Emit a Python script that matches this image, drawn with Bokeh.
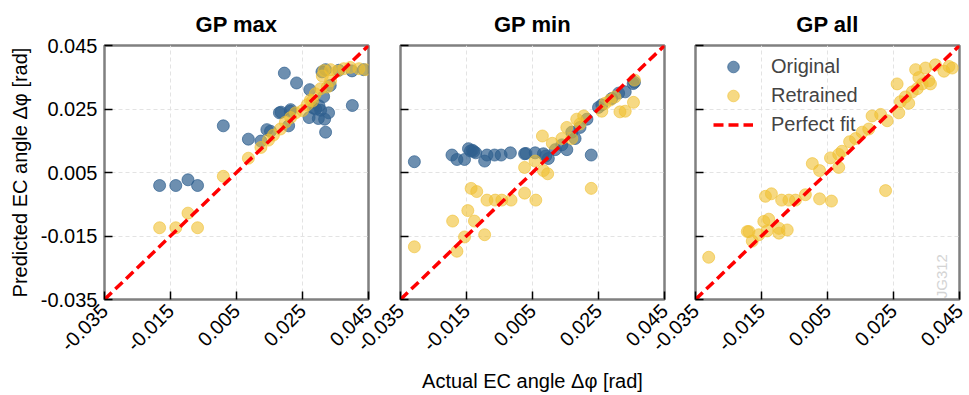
from math import pi
from bokeh.plotting import figure
from bokeh.layouts import row
from bokeh.models import FixedTicker, Legend, LegendItem, Label, Range1d
from bokeh.embed import file_html
from bokeh.resources import INLINE

titles = ["GP max", "GP min", "GP all"]
tick_values = [-0.035, -0.015, 0.005, 0.025, 0.045]
tick_labels = ["-0.035", "-0.015", "0.005", "0.025", "0.045"]
axis_limits = [-0.035, 0.045]
fit_line = [-0.035, 0.045]

# GP max
max_orig_x = [-0.0183, -0.0134, -0.0097, -0.0068, 0.0010, 0.0086, 0.0124, 0.0142, 0.0153, 0.0180,
              0.0195, 0.0213, 0.0208, 0.0232, 0.0272, 0.0270, 0.0283, 0.0298, 0.0305, 0.0317,
              0.0320, 0.0329, 0.0314, 0.0334, 0.0401, 0.0309, 0.0320, 0.0360, 0.0400, 0.0435,
              0.0300, 0.0290, 0.0185, 0.0214]
max_orig_y = [0.0009, 0.0009, 0.0027, 0.0009, 0.0197, 0.0155, 0.0149, 0.0185, 0.0180, 0.0238,
              0.0363, 0.0243, 0.0197, 0.0332, 0.0311, 0.0223, 0.0253, 0.0220, 0.0246, 0.0218,
              0.0177, 0.0238, 0.0289, 0.0324, 0.0261, 0.0367, 0.0374, 0.0372, 0.0370, 0.0374,
              0.0260, 0.0250, 0.0240, 0.0248]
max_retr_x = [-0.0183, -0.0134, -0.0097, -0.0068, 0.0010, 0.0086, 0.0124, 0.0147, 0.0162, 0.0183,
              0.0198, 0.0214, 0.0229, 0.0264, 0.0274, 0.0289, 0.0305, 0.0325, 0.0335, 0.0315,
              0.0335, 0.0355, 0.0375, 0.0395, 0.0421, 0.0441, 0.0310, 0.0250, 0.0280]
max_retr_y = [-0.0124, -0.0124, -0.0078, -0.0124, 0.0038, 0.0095, 0.0129, 0.0152, 0.0168, 0.0187,
              0.0208, 0.0223, 0.0238, 0.0263, 0.0278, 0.0298, 0.0314, 0.0319, 0.0339, 0.0371,
              0.0374, 0.0369, 0.0377, 0.0381, 0.0377, 0.0374, 0.0354, 0.0245, 0.0275]

# GP min
min_orig_x = [-0.0308, -0.0194, -0.0179, -0.0156, -0.0144, -0.0132, -0.0122, -0.0095, -0.0088, -0.0065,
              -0.0045, -0.0017, 0.0026, 0.0058, 0.0083, 0.0098, 0.0119, 0.0139, 0.0154, 0.0169,
              0.0179, 0.0194, 0.0215, 0.0228, 0.0260, 0.0290, 0.0311, 0.0331, 0.0359,
              -0.0138, -0.0128, 0.0030, 0.0090, 0.0355, 0.0250]
min_orig_y = [0.0084, 0.0105, 0.0091, 0.0091, 0.0125, 0.0120, 0.0112, 0.0086, 0.0105, 0.0105,
              0.0105, 0.0112, 0.0109, 0.0112, 0.0109, 0.0094, 0.0122, 0.0137, 0.0122, 0.0177,
              0.0157, 0.0192, 0.0218, 0.0105, 0.0263, 0.0283, 0.0300, 0.0304, 0.0334,
              0.0118, 0.0116, 0.0110, 0.0102, 0.0330, 0.0255]
min_retr_x = [-0.0308, -0.0179, -0.0192, -0.0156, -0.0146, -0.0136, -0.0119, -0.0126, -0.0095, -0.0088,
              -0.0063, -0.0043, -0.0015, 0.0026, 0.0026, 0.0060, 0.0058, 0.0080, 0.0083, 0.0096,
              0.0228, 0.0110, 0.0139, 0.0154, 0.0169, 0.0184, 0.0205, 0.0194, 0.0260, 0.0270,
              0.0285, 0.0300, 0.0315, 0.0331, 0.0356, 0.0359]
min_retr_y = [-0.0184, -0.0198, -0.0103, -0.0153, -0.0070, 0.0000, -0.0010, -0.0103, -0.0146, -0.0037,
              -0.0037, -0.0037, -0.0037, 0.0066, -0.0015, -0.0037, 0.0086, 0.0165, 0.0056, 0.0046,
              0.0000, 0.0142, 0.0157, 0.0192, 0.0157, 0.0218, 0.0228, 0.0203, 0.0243, 0.0268,
              0.0278, 0.0288, 0.0241, 0.0243, 0.0271, 0.0341]

# GP all (no original points are shown in this panel; NaN keeps a legend swatch)
all_orig_x = [float("nan")]
all_orig_y = [float("nan")]
all_retr_x = [-0.0310, -0.0193, -0.0188, -0.0178, -0.0158, -0.0143, -0.0128, -0.0133, -0.0097, -0.0097,
              -0.0072, -0.0138, -0.0120, -0.0089, -0.0067, -0.0047, -0.0017, 0.0026, 0.0062, 0.0004,
              0.0026, 0.0059, 0.0084, 0.0084, 0.0094, 0.0117, 0.0135, 0.0155, 0.0175, 0.0185,
              0.0211, 0.0231, 0.0226, 0.0261, 0.0266, 0.0271, 0.0286, 0.0296, 0.0307, 0.0322,
              0.0337, 0.0357, 0.0362, 0.0317, 0.0327, 0.0347, 0.0377, 0.0403, 0.0418, 0.0428]
all_retr_y = [-0.0217, -0.0136, -0.0136, -0.0166, -0.0146, -0.0104, -0.0097, -0.0134, -0.0141, -0.0126,
              -0.0131, -0.0025, -0.0017, -0.0037, -0.0037, -0.0037, -0.0020, -0.0033, -0.0040, 0.0078,
              0.0056, 0.0096, 0.0066, 0.0107, 0.0117, 0.0147, 0.0157, 0.0177, 0.0187, 0.0228,
              0.0233, 0.0213, -0.0007, 0.0329, 0.0238, 0.0273, 0.0288, 0.0268, 0.0304, 0.0314,
              0.0329, 0.0339, 0.0329, 0.0374, 0.0349, 0.0379, 0.0389, 0.0369, 0.0384, 0.0379]

panels = [
    (max_orig_x, max_orig_y, max_retr_x, max_retr_y),
    (min_orig_x, min_orig_y, min_retr_x, min_retr_y),
    (all_orig_x, all_orig_y, all_retr_x, all_retr_y),
]

BLUE = "#2f5f8f"
YELLOW = "#f0c030"
FONT = "Liberation Sans"
H = 395
TOP = 40
FRAME = 264
layout_cfg = [
    dict(width=378, left=104, right=10, margin=(0, 0, 0, 0)),
    dict(width=336, left=62, right=10, margin=(0, 0, 0, -40)),
    dict(width=335, left=61, right=10, margin=(0, 0, 0, -40)),
]

figs = []
for i, (title, data, cfg) in enumerate(zip(titles, panels, layout_cfg)):
    ox, oy, rx, ry = data
    p = figure(width=cfg["width"], height=H, output_backend="svg", toolbar_location=None,
               x_range=Range1d(*axis_limits), y_range=Range1d(*axis_limits),
               min_border_left=cfg["left"], min_border_right=cfg["right"],
               min_border_top=TOP, min_border_bottom=H - TOP - FRAME,
               margin=cfg["margin"], title=title)
    p.border_fill_alpha = 0 if i > 0 else 1
    p.title.align = "center"
    p.title.text_font = FONT
    p.title.text_font_size = "22px"
    p.title.text_font_style = "bold"
    p.title.text_color = "black"
    p.title.standoff = 18
    p.outline_line_color = "#808080"
    p.outline_line_width = 2.5
    for ax in (p.xaxis[0], p.yaxis[0]):
        ax.ticker = FixedTicker(ticks=tick_values)
        ax.major_label_overrides = {v: s for v, s in zip(tick_values, tick_labels)}
        ax.axis_line_color = None
        ax.major_tick_in = 8
        ax.major_tick_out = 0
        ax.major_tick_line_color = "black"
        ax.major_tick_line_width = 1.5
        ax.minor_tick_line_color = None
        ax.major_label_text_font = FONT
        ax.major_label_text_font_size = "20px"
        ax.major_label_text_color = "black"
        ax.axis_label_text_font = FONT
        ax.axis_label_text_font_size = "20px"
        ax.axis_label_text_font_style = "normal"
        ax.axis_label_text_color = "black"
    p.xaxis.major_label_orientation = pi / 4
    p.xaxis.major_label_standoff = 8
    p.yaxis.major_label_standoff = 7
    if i == 0:
        p.yaxis.axis_label = "Predicted EC angle Δφ [rad]"
        p.yaxis.axis_label_standoff = 7
    else:
        p.yaxis.major_label_overrides = {v: "" for v in tick_values}
    if i == 1:
        p.xaxis.axis_label = "Actual EC angle Δφ [rad]"
        p.xaxis.axis_label_standoff = 10
    for g in (p.xgrid[0], p.ygrid[0]):
        g.ticker = FixedTicker(ticks=tick_values)
        g.grid_line_color = "#e3e3e3"
        g.grid_line_dash = "4 3"
        g.grid_line_width = 1

    r_o = p.scatter(ox, oy, size=12, fill_color=BLUE, fill_alpha=0.7,
                    line_color=BLUE, line_alpha=0.7)
    r_r = p.scatter(rx, ry, size=12, fill_color=YELLOW, fill_alpha=0.6,
                    line_color=YELLOW, line_alpha=0.6)
    r_l = p.line(fit_line, fit_line, line_color="#ff0000", line_width=3.5, line_dash="10 5")

    if i == 2:
        legend = Legend(items=[LegendItem(label="Original", renderers=[r_o]),
                               LegendItem(label="Retrained", renderers=[r_r]),
                               LegendItem(label="Perfect fit", renderers=[r_l])],
                        location=(18, 160), border_line_color=None, background_fill_alpha=0,
                        label_text_font=FONT, label_text_font_size="20px",
                        glyph_width=40, glyph_height=29, label_height=29, spacing=0,
                        padding=6, margin=0, label_standoff=18)
        p.add_layout(legend)
        p.add_layout(Label(x=0.0395, y=-0.0346, text="JG312", angle=pi / 2,
                           text_align="left", text_baseline="middle",
                           text_color="#d4d4d4", text_font=FONT, text_font_size="15px"))
    figs.append(p)

layout = row(*figs)
open("out.html", "w").write(file_html(layout, INLINE))
